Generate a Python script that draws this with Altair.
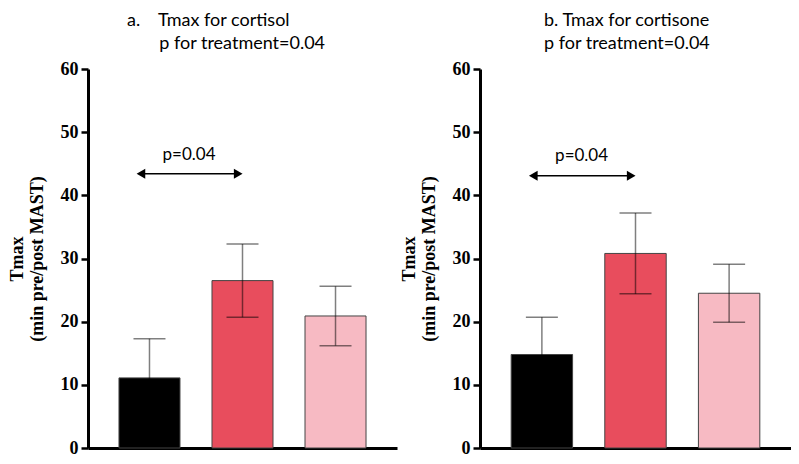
import altair as alt
import pandas as pd

groups = ["Group 1", "Group 2", "Group 3"]
bar_colors = ["#000000", "#E84D5D", "#F7BAC3"]

cortisol_mean = [11.1, 26.5, 20.9]
cortisol_err = [6.2, 5.8, 4.7]
cortisone_mean = [14.8, 30.8, 24.5]
cortisone_err = [5.9, 6.4, 4.6]

p_label = "p=0.04"
arrow_y = [43.4, 43.1]
label_y = [45.6, 45.4]

SERIF = "Liberation Serif"
SANS = "Lato"
INDENT = "\u200b" + "\u00a0" * 7


def panel(means, errs, title_lines, title_dx, ay, ly, width):
    df = pd.DataFrame({
        "group": groups,
        "mean": means,
        "lo": [m - e for m, e in zip(means, errs)],
        "hi": [m + e for m, e in zip(means, errs)],
    })
    ann = pd.DataFrame({"from": [groups[0]], "to": [groups[1]], "y": [ay], "ly": [ly], "label": [p_label]})

    xscale = alt.Scale(domain=groups, paddingInner=0.344, paddingOuter=0.333)
    yscale = alt.Scale(domain=[0, 60])

    x = alt.X("group:N", scale=xscale,
              axis=alt.Axis(labels=False, ticks=False, title=None, domainWidth=3, domainColor="black"))
    y_axis = alt.Axis(values=[0, 10, 20, 30, 40, 50, 60], grid=False,
                      title=["Tmax", "(min pre/post MAST)"],
                      titleFont=SERIF, titleFontWeight="bold", titleFontSize=18, titleColor="black",
                      titleLineHeight=20, titlePadding=14,
                      labelFont=SERIF, labelFontWeight="bold", labelFontSize=18, labelColor="black",
                      labelPadding=3, domainWidth=3, domainColor="black",
                      tickWidth=2.5, tickSize=7, tickColor="black")

    bars = alt.Chart(df).mark_bar(stroke="#444444", strokeWidth=1).encode(
        x=x,
        y=alt.Y("mean:Q", scale=yscale, axis=y_axis),
        color=alt.Color("group:N", scale=alt.Scale(domain=groups, range=bar_colors), legend=None),
    )
    whisk = alt.Chart(df).mark_rule(color="black", opacity=0.5, strokeWidth=1.5).encode(
        x=alt.X("group:N"), y=alt.Y("lo:Q"), y2="hi:Q")
    caps_hi = alt.Chart(df).mark_tick(color="black", opacity=0.5, thickness=1.5, size=32).encode(
        x=alt.X("group:N"), y=alt.Y("hi:Q"))
    caps_lo = alt.Chart(df).mark_tick(color="black", opacity=0.5, thickness=1.5, size=32).encode(
        x=alt.X("group:N"), y=alt.Y("lo:Q"))

    arrow = alt.Chart(ann).mark_rule(color="black", strokeWidth=1.5).encode(
        x=alt.X("from:N", bandPosition=0.36), x2=alt.X2("to:N", bandPosition=0.43), y="y:Q")
    head_l = alt.Chart(ann).mark_point(shape="triangle-left", filled=True, color="black", size=100, opacity=1).encode(
        x=alt.X("from:N", bandPosition=0.36), y="y:Q")
    head_r = alt.Chart(ann).mark_point(shape="triangle-right", filled=True, color="black", size=100, opacity=1).encode(
        x=alt.X("to:N", bandPosition=0.43), y="y:Q")
    label = alt.Chart(ann).mark_text(font=SANS, fontSize=17, color="black", baseline="alphabetic", dx=9).encode(
        x=alt.X("from:N", bandPosition=1), y="ly:Q", text="label:N")

    return alt.layer(bars, whisk, caps_hi, caps_lo, arrow, head_l, head_r, label).properties(
        width=width, height=379,
        title=alt.TitleParams(text=title_lines, anchor="start", frame="group", dx=title_dx,
                              font=SANS, fontSize=18, fontWeight="normal", color="black",
                              lineHeight=23, offset=7),
    )


left = panel(cortisol_mean, cortisol_err,
             ["a.\u00a0\u00a0\u00a0\u00a0Tmax for cortisol", INDENT + "p for treatment=0.04"],
             39, arrow_y[0], label_y[0], 309)
right = panel(cortisone_mean, cortisone_err,
              ["b. Tmax for cortisone", "p for treatment=0.04"],
              64, arrow_y[1], label_y[1], 311)

chart = alt.hconcat(left, right, spacing=3).configure_view(stroke=None).properties(
    padding={"left": 0, "top": 4, "right": 0, "bottom": 0}
)

chart.save("out.html", embed_options={"renderer": "svg", "actions": False})
